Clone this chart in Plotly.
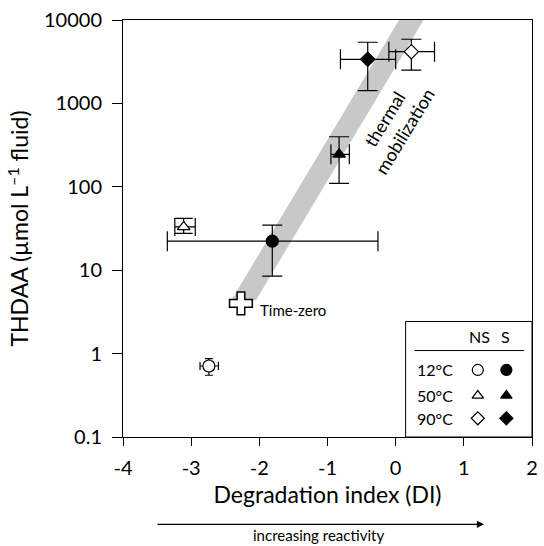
import numpy as np
import plotly.graph_objects as go

# ---- data ----
temps = ["12°C", "50°C", "90°C"]
symbols = ["circle", "triangle-up", "diamond"]
sizes = [12, 11, 11]

# NS (open symbols)
ns_x = [-2.74, -3.11, 0.23]
ns_x_lo = [-2.87, -3.24, -0.10]
ns_x_hi = [-2.60, -2.94, 0.57]
ns_y = [0.71, 33, 4170]
ns_y_lo = [0.55, 27.6, 2510]
ns_y_hi = [0.87, 41.8, 5880]

# S (filled symbols)
s_x = [-1.81, -0.83, -0.41]
s_x_lo = [-3.35, -0.95, -0.81]
s_x_hi = [-0.26, -0.68, 0.0]
s_y = [22.3, 245, 3380]
s_y_lo = [8.5, 110, 1420]
s_y_hi = [34.7, 398, 5410]

# time-zero
t0_x = [-2.27]
t0_y = [4.0]

# thermal mobilization band (parallelogram)
band_x = [-2.41, -2.05, 0.41, 0.05]
band_y = [4.37, 4.37, 10000, 10000]

y_ticks = [0.1, 1, 10, 100, 1000, 10000]
y_ticktext = ["0.1", "1", "10", "100", "1000", "10000"]
x_ticks = [-4, -3, -2, -1, 0, 1, 2]
x_ticktext = ["-4", "-3", "-2", "-1", "0", "1", "2"]

FONT = "Lato"

fig = go.Figure()

fig.add_trace(go.Scatter(
    x=band_x, y=band_y, fill="toself", fillcolor="#c8c8c8",
    mode="lines", line=dict(width=0, color="#c8c8c8"), hoverinfo="skip",
    showlegend=False
))


def add_series(xs, xlo, xhi, ys, ylo, yhi, filled, caps):
    for i in range(len(xs)):
        fig.add_trace(go.Scatter(
            x=[xs[i]], y=[ys[i]], mode="markers", showlegend=False,
            marker=dict(symbol=symbols[i], size=sizes[i],
                        color="black" if filled else "white",
                        line=dict(color="black", width=1.2)),
            error_x=dict(type="data", symmetric=False,
                         array=[xhi[i] - xs[i]], arrayminus=[xs[i] - xlo[i]],
                         color="black", thickness=1.2, width=caps[i]),
            error_y=dict(type="data", symmetric=False,
                         array=[yhi[i] - ys[i]], arrayminus=[ys[i] - ylo[i]],
                         color="black", thickness=1.2, width=caps[i]),
        ))


add_series(s_x, s_x_lo, s_x_hi, s_y, s_y_lo, s_y_hi, True, [10, 10, 10])
add_series(ns_x, ns_x_lo, ns_x_hi, ns_y, ns_y_lo, ns_y_hi, False, [4, 9, 10])

fig.add_trace(go.Scatter(
    x=t0_x, y=t0_y, mode="markers", showlegend=False,
    marker=dict(symbol="cross", size=19, color="white",
                line=dict(color="black", width=1.5))
))

# legend markers on a hidden overlay axis
leg_cols = [0.8675, 0.9373]
leg_rows = [0.1608, 0.0994, 0.0449]
for i in range(3):
    for j, filled in enumerate([False, True]):
        fig.add_trace(go.Scatter(
            x=[leg_cols[j]], y=[leg_rows[i]], xaxis="x2", yaxis="y2",
            mode="markers", showlegend=False, hoverinfo="skip",
            marker=dict(symbol=symbols[i], size=sizes[i] - 1,
                        color="black" if filled else "white",
                        line=dict(color="black", width=1.2))
        ))

shapes = [
    dict(type="rect", xref="paper", yref="paper", x0=0.691, x1=1.0, y0=0, y1=0.277,
         line=dict(color="black", width=1), fillcolor="white", layer="below"),
    dict(type="line", xref="paper", yref="paper", x0=0.7125, x1=0.9807, y0=0.2073, y1=0.2073,
         line=dict(color="black", width=1)),
]

annotations = [
    dict(x=t0_x[0], y=np.log10(t0_y[0]), xref="x", yref="y", text="Time-zero",
         showarrow=False, xanchor="left", xshift=17, yshift=-7,
         font=dict(family=FONT, size=15, color="black")),
    dict(x=0.662, y=0.748, xref="paper", yref="paper", text="thermal<br>mobilization",
         showarrow=False, textangle=-58.7, align="center", xanchor="center", yanchor="middle",
         font=dict(family=FONT, size=18, color="black")),
    dict(x=0.8716, y=0.2416, xref="paper", yref="paper", text="NS", showarrow=False,
         xanchor="center", yanchor="middle", font=dict(family=FONT, size=16, color="black")),
    dict(x=0.936, y=0.2416, xref="paper", yref="paper", text="S", showarrow=False,
         xanchor="center", yanchor="middle", font=dict(family=FONT, size=16, color="black")),
    dict(x=0.8827, y=-0.2095, xref="paper", yref="paper", ax=-328, ay=0, text="",
         showarrow=True, arrowhead=2, arrowsize=1.1, arrowwidth=1.3, arrowcolor="black"),
    dict(x=0.479, y=-0.2359, xref="paper", yref="paper", text="increasing reactivity",
         showarrow=False, xanchor="center", yanchor="middle",
         font=dict(family=FONT, size=15, color="black")),
]
for t, r in zip(temps, leg_rows):
    annotations.append(dict(x=0.7624, y=r, xref="paper", yref="paper", text=t,
                            showarrow=False, xanchor="center", yanchor="middle",
                            font=dict(family=FONT, size=16, color="black")))

fig.update_layout(
    width=544, height=546,
    margin=dict(l=123, r=6, t=20, b=109),
    plot_bgcolor="white", paper_bgcolor="white",
    font=dict(family=FONT, color="black"),
    xaxis=dict(
        range=[-4, 2], tickvals=x_ticks, ticktext=x_ticktext, ticks="outside", ticklen=8,
        tickwidth=1, tickcolor="black", showline=True, linecolor="black", linewidth=1,
        mirror=True, showgrid=False, zeroline=False, tickfont=dict(family=FONT, size=20),
        ticklabelstandoff=5,
        title=dict(text="Degradation index (DI)", font=dict(family=FONT, size=23), standoff=8),
    ),
    yaxis=dict(
        type="log", range=[-1, 4], tickvals=y_ticks, ticktext=y_ticktext,
        ticks="outside", ticklen=10, tickwidth=1, tickcolor="black",
        showline=True, linecolor="black", linewidth=1, mirror=True,
        showgrid=False, zeroline=False, tickfont=dict(family=FONT, size=20),
        ticklabelstandoff=6,
        title=dict(text="THDAA (µmol L<sup>–1</sup> fluid)", font=dict(family=FONT, size=23),
                   standoff=8),
    ),
    xaxis2=dict(overlaying="x", range=[0, 1], visible=False, anchor="y2"),
    yaxis2=dict(overlaying="y", range=[0, 1], visible=False, anchor="x2"),
    shapes=shapes,
    annotations=annotations,
    showlegend=False,
)

fig.write_html("out.html", config={"displayModeBar": False},
               post_script="document.body.style.margin='0';")
